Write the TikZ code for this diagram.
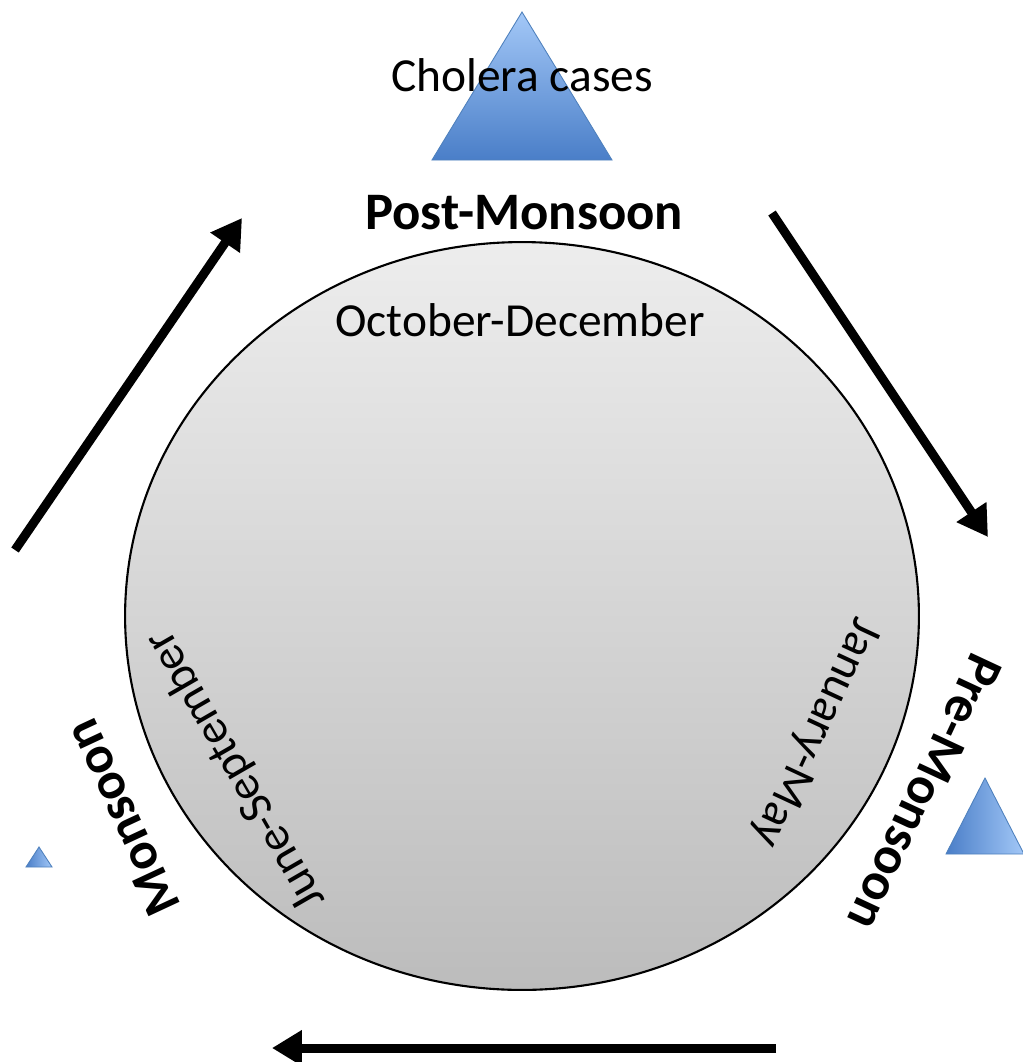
\documentclass[tikz,border=0pt]{standalone}
\usepackage{fontspec}
\setmainfont{Carlito}
\usetikzlibrary{positioning, arrows.meta, shapes.geometric}
\definecolor{cycleTop}{HTML}{EDEDED}
\definecolor{cycleBottom}{HTML}{BCBCBC}
\definecolor{triLight}{HTML}{A3C8F7}
\definecolor{triDark}{HTML}{4A7EC8}
\definecolor{triEdge}{HTML}{4F81BD}
\tikzstyle{season} =[font=\fontsize{30}{36}\selectfont\bfseries, inner sep=0pt]
\tikzstyle{months} =[font=\fontsize{27}{32}\selectfont, inner sep=0pt]
\tikzstyle{cyclearrow} =[-{Triangle[length=0.6cm, width=0.68cm]}, line width=0.18cm, black]
\tikzstyle{casetri} =[draw=triEdge, line width=0.5pt]

\begin{document}
\begin{tikzpicture}[x=0.02cm, y=-0.02cm]
\useasboundingbox (0,0) rectangle (1022,1062);

\node (cycle) [ellipse, draw, line width=1.2pt, minimum width=15.88cm, minimum height=14.96cm, top color=cycleTop, bottom color=cycleBottom] at (522,616) {};

%case triangles
\path[casetri, top color=triLight, bottom color=triDark] (522,12) -- (432,160) -- (612,160) -- cycle;
\path[casetri, left color=triDark, right color=triLight] (985,778) -- (946,854) -- (1024,854) -- cycle;
\path[casetri, left color=triDark, right color=triLight] (39,847) -- (26,867) -- (52,867) -- cycle;

\node (cases) [months] at (522,75) {Cholera cases};

\node (post) [season] at (524,213) {Post-Monsoon};
\node (octDec) [months] at (520,320) {October-December};

\node (pre) [season, rotate=-115] at (925,792) {Pre-Monsoon};
\node (janMay) [months, rotate=-115] at (815,732) {January-May};

\node (monsoon) [season, rotate=115] at (122,818) {Monsoon};
\node (juneSep) [months, rotate=120] at (236,770) {June-September};

%arrows
\coordinate (monsoonTail) at (15,550);
\coordinate (postHead) at (242,218);
\coordinate (postTail) at (772,213);
\coordinate (preHead) at (988,537);
\coordinate (preTail) at (776,1048);
\coordinate (monsoonHead) at (272,1048);

\draw[cyclearrow] (monsoonTail) -- (postHead);
\draw[cyclearrow] (postTail) -- (preHead);
\draw[cyclearrow] (preTail) -- (monsoonHead);
\end{tikzpicture}
\end{document}
